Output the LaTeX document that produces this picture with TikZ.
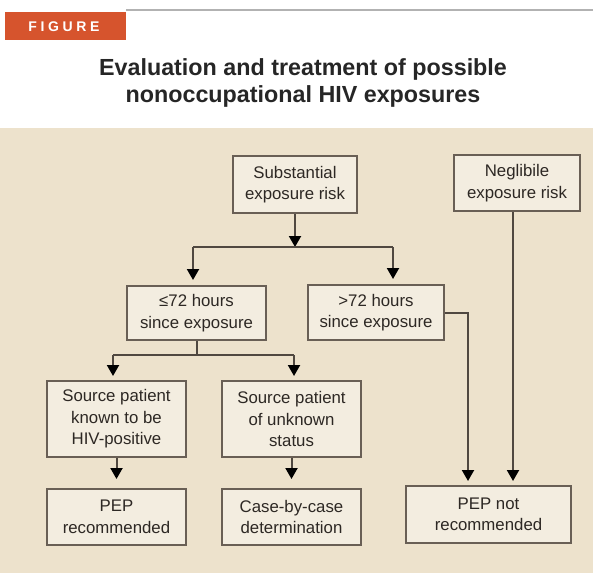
\documentclass[tikz,border=0pt]{standalone}
\usepackage{fontspec}
\setmainfont{Liberation Sans}
\newfontfamily\spacedfont[LetterSpace=26]{Liberation Sans}
\usetikzlibrary{arrows.meta}
\definecolor{bg}{RGB}{237,226,204}
\definecolor{boxfill}{RGB}{243,237,224}
\definecolor{boxline}{RGB}{105,95,85}
\definecolor{figred}{RGB}{214,84,45}
\definecolor{txt}{RGB}{45,40,36}
\definecolor{conn}{RGB}{80,72,64}
\begin{document}
\begin{tikzpicture}[x=1pt,y=-1pt,
  flowbox/.style={draw=boxline, line width=2pt, fill=boxfill, align=center, text=txt,
    font=\fontsize{16.8}{21.5}\selectfont, inner sep=0pt},
  conline/.style={draw=conn, line width=2pt},
  arr/.style={conline, -{Triangle[width=12pt,length=11pt,fill=black,color=black]}}]
\useasboundingbox (0,0) rectangle (593,573);
\fill[white] (0,0) rectangle (593,573);
\fill[bg] (0,128) rectangle (593,573);
\draw[gray!60, line width=1.5pt] (126,10) -- (593,10);
\fill[figred] (5,12) rectangle (126,40);
\node[text=white, font=\spacedfont\bfseries\fontsize{14}{16}\selectfont] (fig) at (64,27) {FIGURE};
\node[align=center, text=black!85, font=\bfseries\fontsize{23.3}{26.5}\selectfont] (title) at (303,83)
  {Evaluation and treatment of possible\\nonoccupational HIV exposures};

\node[flowbox, minimum width=124pt, minimum height=57pt] (sub) at (295,184.5) {Substantial\\exposure risk};
\node[flowbox, minimum width=126pt, minimum height=56pt] (neg) at (517,183) {Neglibile\\exposure risk};
\node[flowbox, minimum width=139pt, minimum height=54pt] (le) at (196.5,313) {≤72 hours\\since exposure};
\node[flowbox, minimum width=136pt, minimum height=55pt] (gt) at (376,312.5) {>72 hours\\since exposure};
\node[flowbox, minimum width=139pt, minimum height=76pt] (known) at (116.5,419) {Source patient\\known to be\\HIV-positive};
\node[flowbox, minimum width=139pt, minimum height=76pt] (unk) at (291.5,419) {Source patient\\of unknown\\status};
\node[flowbox, minimum width=139pt, minimum height=56pt] (rec) at (116.5,517) {PEP\\recommended};
\node[flowbox, minimum width=139pt, minimum height=56pt] (case) at (291.5,517) {Case-by-case\\determination};
\node[flowbox, minimum width=165pt, minimum height=57pt] (not) at (488.5,514.5) {PEP not\\recommended};

% substantial split
\coordinate (b1L) at (193,247);
\coordinate (b1R) at (393,247);
\draw[arr] (sub.south) -- (sub.south |- b1L);
\draw[conline] (b1L) -- (b1R);
\draw[arr, shorten >=5pt] (b1L) -- (b1L |- le.north);
\draw[arr, shorten >=5pt] (b1R) -- (b1R |- gt.north);

% <=72 split
\coordinate (b2L) at (113,355);
\coordinate (b2R) at (294,355);
\draw[conline] (le.south) -- (le.south |- b2L);
\draw[conline] (b2L) -- (b2R);
\draw[arr, shorten >=4pt] (b2L) -- (b2L |- known.north);
\draw[arr, shorten >=4pt] (b2R) -- (b2R |- unk.north);

% lower arrows
\draw[arr, shorten >=9pt] (known.south) -- (rec.north);
\draw[arr, shorten >=9pt] (unk.south) -- (case.north);

% to PEP not recommended
\coordinate (c1) at (468,313);
\draw[arr, shorten >=4pt] (gt.east |- c1) -- (c1) -- (c1 |- not.north);
\draw[arr, shorten >=4pt] ([xshift=-4pt]neg.south) -- ([xshift=-4pt]neg.south |- not.north);
\end{tikzpicture}
\end{document}
